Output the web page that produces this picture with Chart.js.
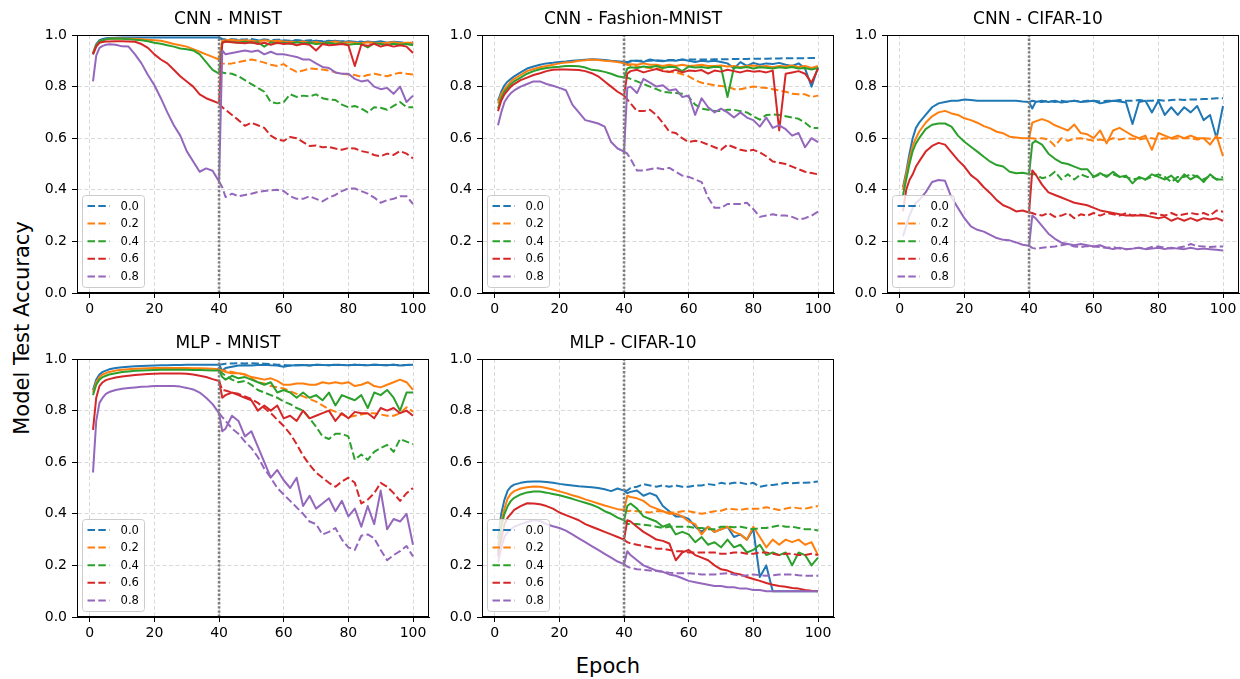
<!DOCTYPE html>
<html lang="en">
<head>
<meta charset="UTF-8">
<title>Model Test Accuracy</title>
<style>
  html, body { margin: 0; padding: 0; background: #fff; overflow: hidden; }
  body { width: 1240px; height: 679px; position: relative; font-family: 'DejaVu Sans', sans-serif; }
  .panel { position: absolute; }
  .axis-label { position: absolute; font-size: 21px; color: #000; white-space: nowrap; transform: translate(-50%, -50%); }
</style>
</head>
<body>
<div class="axis-label" style="left:22px; top:328px; transform: translate(-50%, -50%) rotate(-90deg);">Model Test Accuracy</div>
<div class="axis-label" style="left:608px; top:666px;">Epoch</div>

<script src="https://cdn.jsdelivr.net/npm/chart.js"></script>
<script>
const preEpochs = [1, 2, 3, 4, 5, 6, 8, 10, 12, 14, 16, 18, 20, 22, 24, 26, 28, 30, 32, 34, 36, 38, 40];
const postEpochs = [41, 42, 44, 46, 48, 50, 52, 54, 56, 58, 60, 62, 64, 66, 68, 70, 72, 74, 76, 78, 80, 82, 84, 86, 88, 90, 92, 94, 96, 98, 100];
const noiseLevels = ['0.0', '0.2', '0.4', '0.6', '0.8'];
const colors = ['#1f77b4', '#ff7f0e', '#2ca02c', '#d62728', '#9467bd'];
const relabelEpoch = 40;

// ---- CNN - MNIST ----
const cnnMnistPre = [
  [.93,.965,.98,.985,.987,.988, .989,.99,.99,.99,.99, .99,.99,.99,.99,.99, .99,.99,.99,.99,.99, .99,.99],
  [.93,.96,.975,.98,.983,.985, .986,.986,.985,.985,.984, .982,.98,.978,.972,.965, .96,.955,.945,.935,.925, .915,.905],
  [.925,.96,.975,.98,.983,.985, .985,.985,.984,.982,.98, .976,.97,.966,.96,.955, .948,.945,.94,.925,.895, .865,.85],
  [.925,.955,.97,.973,.975,.975, .976,.976,.975,.974,.965, .95,.925,.905,.89,.865, .84,.82,.8,.77,.755, .745,.735],
  [.82,.92,.95,.958,.962,.964, .962,.956,.955,.925,.89, .845,.805,.755,.7,.65, .61,.55,.51,.47,.483, .474,.432]
];
const cnnMnistSolid = [
  [.982, .98,.978,.98,.975,.98, .978,.982,.976,.98,.978, .975,.98,.977,.975,.978, .974,.976,.978,.972,.976, .974,.97,.975,.972,.976, .97,.974,.972,.968,.965],
  [.978, .98,.982,.978,.98,.978, .975,.98,.976,.978,.975, .974,.972,.975,.97,.973, .968,.972,.975,.97,.972, .97,.968,.972,.97,.968, .97,.972,.968,.97,.97],
  [.97, .975,.973,.97,.974,.97, .972,.955,.972,.968,.97, .966,.972,.968,.97,.965, .967,.97,.965,.968,.962, .965,.966,.952,.968,.965, .96,.966,.962,.965,.96],
  [.97, .975,.972,.97,.968,.972, .965,.97,.962,.97,.965, .968,.96,.966,.962,.94, .965,.96,.962,.965,.96, .88,.962,.958,.966,.955, .962,.955,.96,.955,.93],
  [.94, .925,.93,.935,.94,.935, .94,.925,.935,.925,.925, .92,.915,.905,.905,.89, .876,.872,.855,.85,.85, .83,.82,.825,.8,.79, .795,.772,.8,.74,.765]
];
const cnnMnistDashed = [
  [.985, .983,.984,.982,.983,.985, .98,.983,.98,.982,.98, .978,.98,.977,.98,.978, .976,.978,.975,.976,.975, .972,.975,.97,.972,.97, .968,.972,.97,.968,.972],
  [.89, .888,.89,.895,.9,.905, .9,.893,.885,.88,.887, .87,.857,.862,.87,.868, .866,.862,.855,.85,.847, .845,.838,.845,.85,.845, .84,.848,.854,.85,.847],
  [.855, .852,.85,.84,.825,.81, .795,.78,.74,.735,.74, .77,.76,.765,.762,.77, .755,.75,.748,.73,.72, .725,.715,.7,.72,.718, .71,.725,.74,.72,.72],
  [.72, .71,.69,.67,.648,.66, .65,.64,.61,.595,.59, .605,.6,.585,.57,.572, .565,.566,.56,.555,.562, .56,.55,.545,.535,.53, .54,.535,.55,.54,.522],
  [.41, .372,.385,.375,.38,.385, .392,.395,.398,.4,.395, .375,.365,.365,.375,.365, .355,.37,.38,.395,.405, .405,.395,.385,.37,.35, .36,.365,.375,.375,.345]
];

// ---- CNN - Fashion-MNIST ----
const cnnFashionPre = [
  [.745,.78,.805,.82,.83,.84, .855,.87,.878,.885,.89, .892,.895,.897,.9,.902, .904,.906,.905,.903,.9, .898,.895],
  [.735,.77,.79,.805,.82,.83, .845,.86,.868,.875,.88, .885,.89,.893,.895,.9, .902,.905,.903,.9,.898, .895,.89],
  [.715,.755,.78,.795,.81,.82, .835,.85,.86,.867,.872, .875,.877,.88,.88,.879, .874,.865,.862,.857,.85, .84,.835],
  [.705,.745,.77,.785,.8,.81, .825,.835,.845,.852,.86, .865,.866,.866,.865,.864, .86,.852,.84,.82,.8, .78,.765],
  [.65,.7,.74,.76,.775,.785, .8,.81,.82,.82,.81, .803,.795,.786,.73,.7, .67,.664,.657,.645,.585, .56,.548]
];
const cnnFashionSolid = [
  [.89, .9,.9,.895,.905,.9, .898,.902,.9,.905,.9, .895,.9,.897,.9,.895, .89,.87,.895,.88,.892, .885,.89,.888,.892,.885, .88,.89,.87,.8,.875],
  [.885, .887,.885,.89,.885,.885, .88,.885,.88,.885,.88, .882,.885,.88,.88,.882, .878,.88,.875,.88,.882, .878,.88,.875,.88,.878, .882,.876,.88,.872,.88],
  [.87, .875,.872,.878,.875,.88, .872,.877,.875,.86,.878, .874,.876,.872,.877,.875, .76,.875,.872,.876,.87, .875,.873,.87,.875,.872, .876,.87,.872,.866,.872],
  [.85, .86,.865,.855,.862,.868, .86,.857,.865,.855,.862, .86,.864,.85,.862,.858, .865,.86,.855,.862,.858, .86,.855,.862,.63,.85, .855,.86,.85,.815,.87],
  [.795, .8,.775,.83,.815,.8, .805,.785,.79,.76,.765, .69,.755,.72,.7,.715, .7,.68,.7,.68,.67, .645,.68,.64,.65,.635, .61,.62,.565,.6,.585]
];
const cnnFashionDashed = [
  [.895, .897,.9,.9,.9,.902, .9,.903,.903,.904,.905, .905,.905,.905,.906,.906, .906,.907,.907,.907,.908, .908,.908,.909,.909,.91, .91,.91,.91,.911,.911],
  [.885, .882,.878,.875,.872,.87, .865,.858,.855,.848,.84, .825,.815,.81,.805,.802, .8,.79,.79,.795,.8, .797,.795,.79,.785,.78, .772,.77,.77,.76,.765],
  [.835, .83,.82,.81,.8,.79, .78,.777,.775,.772,.76, .73,.715,.71,.705,.705, .71,.71,.705,.7,.685, .672,.69,.692,.69,.685, .68,.675,.66,.64,.64],
  [.75, .735,.705,.705,.71,.69, .66,.625,.62,.6,.585, .59,.585,.575,.565,.555, .575,.565,.555,.55,.555, .545,.53,.51,.505,.5, .49,.48,.47,.465,.46],
  [.54, .52,.475,.475,.48,.485, .48,.485,.47,.455,.45, .44,.43,.37,.33,.33, .345,.345,.345,.35,.325, .295,.3,.305,.3,.3, .295,.285,.29,.3,.315]
];

// ---- CNN - CIFAR-10 ----
const cnnCifarPre = [
  [.41,.47,.54,.6,.64,.66, .69,.72,.735,.74,.745, .745,.75,.748,.745,.745, .745,.745,.745,.745,.745, .742,.74],
  [.4,.46,.52,.57,.6,.625, .66,.685,.7,.706,.696, .69,.677,.67,.66,.647, .638,.625,.619,.606,.603, .6,.6],
  [.38,.44,.5,.55,.58,.6, .635,.652,.657,.657,.645, .61,.586,.567,.548,.528, .509,.496,.49,.47,.464, .466,.461],
  [.316,.4,.438,.46,.49,.51, .548,.57,.582,.575,.545, .515,.49,.457,.438,.41, .387,.36,.34,.33,.316, .32,.312],
  [.22,.26,.3,.33,.35,.36, .39,.43,.438,.435,.37, .33,.29,.258,.245,.238, .225,.213,.206,.204,.196, .187,.183]
];
const cnnCifarSolid = [
  [.715, .74,.745,.74,.745,.738, .742,.745,.74,.742,.745, .735,.74,.745,.742,.738, .655,.74,.745,.7,.745, .69,.72,.69,.72,.7, .725,.67,.69,.6,.725],
  [.66, .665,.674,.665,.65,.64, .63,.653,.62,.615,.6, .63,.58,.63,.64,.625, .61,.6,.61,.555,.62, .61,.6,.61,.6,.61, .6,.6,.575,.61,.53],
  [.58, .59,.575,.54,.52,.505, .5,.49,.48,.48,.45, .465,.45,.47,.45,.455, .425,.45,.44,.46,.45, .44,.455,.43,.46,.44, .455,.43,.46,.44,.44],
  [.475, .46,.42,.39,.38,.37, .36,.35,.345,.34,.33, .32,.315,.31,.305,.3, .3,.3,.3,.295,.29, .295,.28,.29,.28,.29, .28,.29,.285,.29,.28],
  [.3, .29,.26,.23,.21,.195, .19,.185,.19,.185,.18, .185,.175,.17,.175,.17, .172,.175,.17,.172,.175, .17,.175,.172,.17,.175, .17,.172,.17,.168,.165]
];
const cnnCifarDashed = [
  [.745, .742,.74,.745,.74,.745, .74,.745,.742,.745,.745, .742,.745,.745,.748,.745, .745,.748,.745,.745,.748, .745,.748,.75,.748,.75, .75,.752,.752,.755,.755],
  [.6, .598,.6,.595,.57,.6, .59,.598,.6,.595,.59, .595,.59,.6,.595,.6, .598,.595,.6,.6,.595, .6,.598,.6,.6,.6, .595,.6,.598,.602,.6],
  [.46, .46,.445,.45,.47,.44, .46,.44,.46,.45,.45, .46,.455,.46,.45,.45, .44,.445,.44,.45,.46, .45,.43,.45,.45,.46, .45,.44,.455,.44,.45],
  [.31, .305,.3,.31,.295,.3, .31,.29,.305,.3,.31, .3,.31,.305,.3,.31, .3,.305,.3,.31,.305, .3,.31,.3,.305,.31, .305,.31,.3,.32,.315],
  [.175, .172,.175,.178,.18,.185, .19,.18,.178,.182,.18, .178,.175,.178,.172,.17, .172,.175,.17,.178,.18, .175,.172,.175,.18,.19, .182,.18,.178,.18,.18]
];

// ---- MLP - MNIST ----
const mlpMnistPre = [
  [.88,.92,.94,.95,.955,.96, .965,.968,.97,.972,.973, .974,.975,.976,.976,.977, .977,.978,.978,.978,.978, .978,.978],
  [.87,.91,.93,.94,.945,.95, .955,.958,.96,.962,.963, .964,.965,.965,.965,.965, .965,.965,.964,.964,.963, .962,.96],
  [.86,.9,.92,.93,.935,.94, .945,.95,.952,.954,.955, .956,.957,.958,.958,.958, .958,.958,.957,.957,.956, .955,.955],
  [.725,.85,.895,.91,.918,.922, .928,.932,.935,.938,.94, .942,.943,.944,.944,.944, .944,.943,.94,.935,.93, .922,.915],
  [.56,.76,.83,.85,.865,.872, .88,.885,.888,.89,.892, .893,.895,.895,.895,.895, .893,.888,.882,.87,.85, .825,.79]
];
const mlpMnistSolid = [
  [.955, .965,.97,.975,.976,.975, .977,.978,.976,.975,.97, .975,.976,.977,.975,.978, .977,.976,.978,.977,.976, .978,.977,.976,.978,.977, .976,.978,.975,.977,.978],
  [.955, .95,.945,.945,.94,.93, .925,.92,.925,.915,.9, .9,.905,.905,.9,.9, .91,.905,.91,.905,.91, .895,.9,.91,.895,.89, .9,.91,.92,.91,.88],
  [.93, .92,.935,.925,.93,.92, .91,.9,.91,.87,.88, .87,.85,.87,.85,.86, .84,.87,.82,.86,.85, .84,.86,.81,.87,.86, .88,.85,.8,.87,.87],
  [.85, .86,.87,.86,.85,.84, .8,.82,.8,.82,.77, .78,.76,.8,.77,.78, .79,.8,.76,.79,.77, .795,.79,.79,.77,.81, .8,.81,.79,.8,.78],
  [.72, .73,.78,.76,.7,.72, .66,.6,.54,.57,.53, .5,.54,.43,.47,.42, .44,.46,.41,.45,.39, .42,.35,.43,.36,.49, .34,.38,.37,.4,.28]
];
const mlpMnistDashed = [
  [.98, .982,.983,.984,.983,.984, .983,.982,.98,.978,.977, .975,.976,.977,.975,.978, .977,.976,.978,.977,.976, .978,.977,.976,.978,.977, .976,.978,.975,.977,.978],
  [.955, .955,.95,.945,.94,.925, .91,.905,.895,.89,.886, .875,.865,.855,.845,.835, .82,.805,.796,.785,.774, .78,.785,.79,.79,.785, .78,.78,.79,.813,.796],
  [.945, .935,.92,.91,.915,.9, .88,.87,.86,.85,.835, .825,.81,.8,.77,.738, .7,.69,.71,.71,.7, .609,.63,.609,.64,.655, .667,.64,.69,.68,.67],
  [.88, .878,.87,.865,.855,.845, .83,.81,.79,.765,.74, .71,.67,.625,.59,.56, .54,.52,.505,.525,.54, .52,.44,.455,.48,.52, .505,.48,.45,.48,.5],
  [.775, .76,.73,.71,.68,.655, .62,.575,.54,.5,.475, .45,.425,.4,.37,.36, .32,.33,.345,.3,.27, .26,.315,.32,.305,.26, .22,.24,.255,.275,.235]
];

// ---- MLP - CIFAR-10 ----
const mlpCifarPre = [
  [.3,.4,.455,.49,.505,.513, .52,.524,.525,.525,.523, .52,.516,.513,.51,.507, .505,.503,.5,.495,.488, .498,.49],
  [.27,.37,.42,.46,.478,.488, .498,.503,.506,.505,.5, .494,.487,.48,.472,.465, .456,.448,.44,.432,.425, .418,.415],
  [.25,.35,.4,.43,.45,.462, .475,.483,.486,.486,.482, .477,.472,.465,.458,.45, .443,.435,.425,.41,.4, .385,.375],
  [.235,.3,.36,.385,.4,.415, .43,.441,.44,.437,.43, .42,.405,.395,.385,.375, .36,.35,.34,.33,.32, .31,.3],
  [.21,.27,.31,.33,.34,.35, .36,.368,.375,.372,.36, .352,.345,.335,.32,.305, .29,.275,.26,.245,.23, .215,.205]
];
const mlpCifarSolid = [
  [.48, .485,.49,.47,.48,.47, .43,.41,.39,.39,.38, .35,.33,.35,.33,.34, .35,.31,.32,.3,.34, .155,.2,.1,.1,.1, .1,.1,.1,.1,.1],
  [.47, .465,.46,.45,.43,.42, .41,.4,.4,.39,.37, .36,.32,.35,.33,.34, .35,.33,.32,.3,.35, .31,.27,.3,.28,.3, .29,.3,.28,.29,.24],
  [.43, .44,.42,.39,.38,.37, .35,.36,.32,.33,.32, .29,.31,.28,.29,.27, .3,.27,.28,.25,.26, .28,.24,.25,.24,.25, .2,.25,.24,.2,.23],
  [.375, .37,.35,.33,.315,.3, .295,.285,.22,.25,.26, .24,.23,.22,.2,.185, .18,.17,.165,.155,.147, .14,.132,.125,.12,.117, .112,.11,.105,.102,.1],
  [.255, .24,.22,.2,.19,.18, .175,.165,.16,.15,.14, .135,.13,.125,.12,.12, .115,.115,.11,.11,.105, .105,.1,.1,.1,.1, .1,.1,.1,.1,.1]
];
const mlpCifarDashed = [
  [.49, .5,.505,.515,.51,.505, .51,.505,.51,.505,.505, .51,.51,.515,.512,.52, .515,.52,.52,.515,.52, .505,.51,.512,.515,.52, .518,.52,.52,.522,.525],
  [.41, .412,.41,.408,.405,.41, .41,.405,.405,.41,.41, .405,.4,.405,.41,.412, .42,.418,.415,.42,.42, .42,.425,.42,.415,.42, .425,.422,.42,.425,.43],
  [.36, .36,.36,.358,.355,.35, .345,.35,.35,.35,.35, .345,.345,.34,.34,.35, .35,.348,.35,.345,.34, .345,.345,.35,.355,.35, .35,.345,.34,.34,.335],
  [.29, .285,.28,.275,.27,.265, .265,.26,.255,.255,.25, .25,.25,.25,.25,.245, .245,.25,.25,.245,.245, .25,.25,.245,.24,.245, .245,.24,.24,.245,.24],
  [.195, .19,.185,.183,.18,.178, .175,.172,.17,.17,.17, .168,.165,.165,.165,.168, .17,.165,.16,.162,.165, .162,.16,.162,.165,.165, .165,.162,.16,.16,.16]
];

const panels = [
  { title: 'CNN - MNIST', pre: cnnMnistPre, solid: cnnMnistSolid, dashed: cnnMnistDashed, left: 77, top: 35 },
  { title: 'CNN - Fashion-MNIST', pre: cnnFashionPre, solid: cnnFashionSolid, dashed: cnnFashionDashed, left: 482, top: 35 },
  { title: 'CNN - CIFAR-10', pre: cnnCifarPre, solid: cnnCifarSolid, dashed: cnnCifarDashed, left: 887, top: 35 },
  { title: 'MLP - MNIST', pre: mlpMnistPre, solid: mlpMnistSolid, dashed: mlpMnistDashed, left: 77, top: 359 },
  { title: 'MLP - CIFAR-10', pre: mlpCifarPre, solid: mlpCifarSolid, dashed: mlpCifarDashed, left: 482, top: 359 }
];

const AX_W = 352, AX_H = 258;
const PAD_L = 50, PAD_T = 32, PAD_R = 6, PAD_B = 28;
const DASH = [7.5, 3.3];

Chart.defaults.font.family = "'DejaVu Sans', sans-serif";
Chart.defaults.color = '#000';

// legend inside the axes (lower left) + the full box frame
const insideLegend = {
  id: 'insideLegend',
  afterDatasetsDraw(chart) {
    const { ctx, chartArea } = chart;
    const w = 62, h = 92;
    const x = chartArea.left + 5.5, y = chartArea.bottom - 5.5 - h;
    ctx.save();
    ctx.beginPath();
    ctx.roundRect(x, y, w, h, 3);
    ctx.fillStyle = 'rgba(255,255,255,0.8)';
    ctx.fill();
    ctx.strokeStyle = '#cccccc';
    ctx.lineWidth = 1;
    ctx.stroke();
    ctx.font = "11.6px 'DejaVu Sans'";
    ctx.textBaseline = 'middle';
    noiseLevels.forEach((lab, i) => {
      const cy = y + 10.5 + i * 17.6;
      ctx.beginPath();
      ctx.setLineDash(DASH);
      ctx.strokeStyle = colors[i];
      ctx.lineWidth = 2;
      ctx.moveTo(x + 5, cy);
      ctx.lineTo(x + 27, cy);
      ctx.stroke();
      ctx.setLineDash([]);
      ctx.fillStyle = '#000';
      ctx.fillText(lab, x + 38, cy + 0.5);
    });
    ctx.restore();
  },
  afterDraw(chart) {
    const { ctx, chartArea } = chart;
    ctx.save();
    ctx.strokeStyle = '#000';
    ctx.lineWidth = 1;
    ctx.strokeRect(Math.round(chartArea.left) + 0.5, Math.round(chartArea.top) + 0.5,
      Math.round(chartArea.right - chartArea.left) - 1, Math.round(chartArea.bottom - chartArea.top) - 1);
    ctx.restore();
  }
};

function buildDatasets(p) {
  const sets = [];
  let order = 100;
  noiseLevels.forEach((lab, k) => {
    const last = p.pre[k][p.pre[k].length - 1];
    sets.push({
      label: lab + ' dashed',
      data: [{ x: relabelEpoch, y: last }].concat(postEpochs.map((e, i) => ({ x: e, y: p.dashed[k][i] }))),
      borderColor: colors[k], borderWidth: 2, borderDash: DASH, order: order--
    });
    sets.push({
      label: lab,
      data: preEpochs.map((e, i) => ({ x: e, y: p.pre[k][i] }))
        .concat(postEpochs.map((e, i) => ({ x: e, y: p.solid[k][i] }))),
      borderColor: colors[k], borderWidth: 2, order: order--
    });
  });
  sets.push({
    label: 'relabel',
    data: [{ x: relabelEpoch, y: 0 }, { x: relabelEpoch, y: 1 }],
    borderColor: '#7f7f7f', borderWidth: 2.6, borderDash: [2.4, 1.8], order: -1
  });
  return sets;
}

panels.forEach(p => {
  const canvas = document.createElement('canvas');
  canvas.className = 'panel';
  const cw = PAD_L + AX_W + PAD_R, ch = PAD_T + AX_H + PAD_B;
  canvas.width = cw; canvas.height = ch;
  canvas.style.width = cw + 'px'; canvas.style.height = ch + 'px';
  canvas.style.left = (p.left - PAD_L) + 'px';
  canvas.style.top = (p.top - PAD_T) + 'px';
  document.body.appendChild(canvas);

  new Chart(canvas.getContext('2d'), {
    type: 'line',
    data: { datasets: buildDatasets(p) },
    options: {
      responsive: false,
      animation: false,
      events: [],
      devicePixelRatio: 1,
      layout: { padding: { left: 0, right: PAD_R, top: 0, bottom: 0 } },
      elements: {
        point: { radius: 0 },
        line: { tension: 0, fill: false, borderJoinStyle: 'round' }
      },
      plugins: {
        legend: { display: false },
        tooltip: { enabled: false },
        title: {
          display: true, text: p.title, color: '#000',
          font: { size: 17, weight: 'normal', lineHeight: 1.2 },
          padding: { top: 6, bottom: 5.6 }
        }
      },
      scales: {
        x: {
          type: 'linear', min: -3.95, max: 104.95,
          ticks: { stepSize: 20, includeBounds: false, font: { size: 14 }, padding: 3, maxRotation: 0, autoSkip: false },
          grid: { color: '#d9d9d9', lineWidth: 1, tickColor: '#000', tickLength: 5, tickWidth: 1 },
          border: { display: true, color: '#000', width: 1, dash: [4, 2.5] },
          afterFit(scale) { scale.height = PAD_B; }
        },
        y: {
          min: 0, max: 1,
          ticks: { stepSize: 0.2, font: { size: 14 }, padding: 5, callback: v => v.toFixed(1) },
          grid: { color: '#d9d9d9', lineWidth: 1, tickColor: '#000', tickLength: 5, tickWidth: 1 },
          border: { display: true, color: '#000', width: 1, dash: [4, 2.5] },
          afterFit(scale) { scale.width = PAD_L; }
        }
      }
    },
    plugins: [insideLegend]
  });
});
</script>
</body>
</html>
